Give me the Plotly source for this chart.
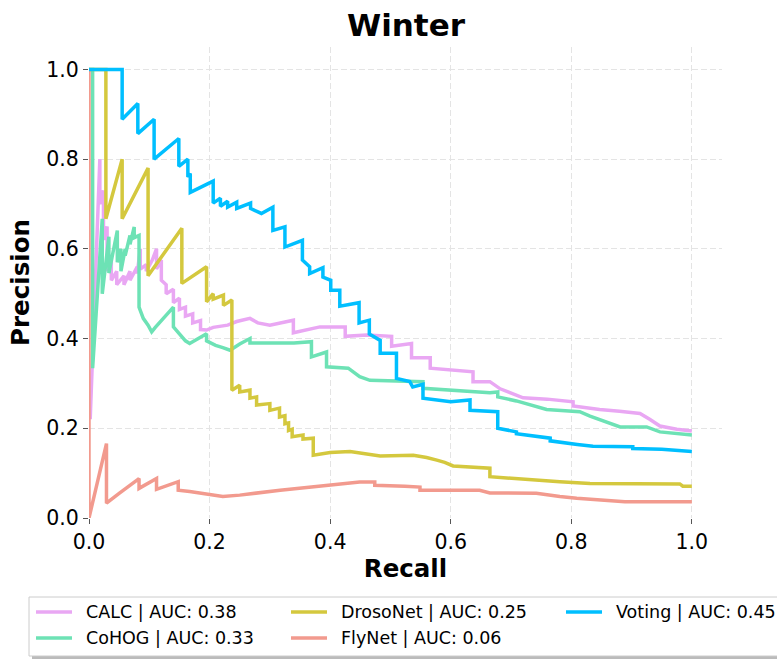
import plotly.graph_objects as go

# ---------------- data: precision-recall curves ----------------
names = ["CALC", "CoHOG", "DrosoNet", "FlyNet", "Voting"]
auc_values = [0.38, 0.33, 0.25, 0.06, 0.45]
colors = ["#E9A7F3", "#6DE2B5", "#D4C83E", "#F29A8E", "#00BFFF"]

calc_recall = [0.002, 0.018, 0.018, 0.024, 0.024, 0.030, 0.030, 0.037, 0.037, 0.046, 0.046,
               0.058, 0.058, 0.068, 0.068, 0.080, 0.080, 0.085, 0.085, 0.095, 0.095, 0.105,
               0.112, 0.112, 0.120, 0.120, 0.128, 0.128, 0.140, 0.140, 0.150, 0.150, 0.160,
               0.160, 0.172, 0.172, 0.185, 0.185, 0.195, 0.206, 0.230, 0.245, 0.267, 0.280,
               0.300, 0.317, 0.330, 0.339, 0.339, 0.360, 0.383, 0.425, 0.425, 0.461, 0.502,
               0.502, 0.535, 0.535, 0.566, 0.566, 0.600, 0.637, 0.637, 0.665, 0.682, 0.700,
               0.720, 0.760, 0.803, 0.803, 0.847, 0.880, 0.914, 0.930, 0.947, 0.975, 1.000]
calc_precision = [0.22, 0.80, 0.70, 0.73, 0.62, 0.65, 0.55, 0.58, 0.53, 0.55, 0.52,
                  0.54, 0.52, 0.55, 0.53, 0.56, 0.545, 0.60, 0.555, 0.565, 0.55, 0.575,
                  0.60, 0.555, 0.575, 0.53, 0.52, 0.50, 0.51, 0.48, 0.49, 0.465, 0.47,
                  0.45, 0.455, 0.435, 0.44, 0.42, 0.419, 0.425, 0.43, 0.438, 0.445, 0.435,
                  0.43, 0.435, 0.44, 0.441, 0.413, 0.42, 0.426, 0.426, 0.405, 0.408, 0.405,
                  0.383, 0.389, 0.357, 0.357, 0.334, 0.331, 0.326, 0.304, 0.304, 0.288, 0.278,
                  0.268, 0.265, 0.259, 0.250, 0.242, 0.238, 0.233, 0.220, 0.205, 0.198, 0.194]

cohog_recall = [0.000, 0.006, 0.006, 0.022, 0.022, 0.033, 0.033, 0.047, 0.047, 0.053, 0.053,
                0.060, 0.060, 0.068, 0.068, 0.075, 0.075, 0.083, 0.083, 0.090, 0.098, 0.104,
                0.110, 0.118, 0.130, 0.140, 0.140, 0.150, 0.160, 0.167, 0.180, 0.195, 0.195,
                0.210, 0.222, 0.234, 0.250, 0.267, 0.267, 0.290, 0.317, 0.340, 0.369, 0.369,
                0.394, 0.394, 0.430, 0.449, 0.466, 0.510, 0.554, 0.554, 0.601, 0.665, 0.678,
                0.678, 0.709, 0.759, 0.814, 0.831, 0.881, 0.925, 0.947, 1.000]
cohog_precision = [1.000, 1.000, 0.334, 0.667, 0.500, 0.627, 0.546, 0.641, 0.570, 0.600, 0.550,
                   0.600, 0.585, 0.630, 0.610, 0.649, 0.625, 0.630, 0.470, 0.445, 0.430, 0.415,
                   0.425, 0.437, 0.455, 0.470, 0.426, 0.410, 0.395, 0.389, 0.400, 0.411, 0.395,
                   0.385, 0.380, 0.374, 0.388, 0.400, 0.390, 0.390, 0.389, 0.390, 0.393, 0.359,
                   0.370, 0.337, 0.334, 0.315, 0.307, 0.305, 0.304, 0.289, 0.284, 0.279, 0.281,
                   0.270, 0.261, 0.242, 0.237, 0.227, 0.203, 0.203, 0.192, 0.185]

droso_recall = [0.000, 0.028, 0.028, 0.055, 0.055, 0.098, 0.098, 0.154, 0.154, 0.195, 0.195,
                0.206, 0.206, 0.223, 0.223, 0.237, 0.237, 0.250, 0.250, 0.267, 0.267, 0.278,
                0.278, 0.300, 0.300, 0.316, 0.316, 0.325, 0.325, 0.331, 0.331, 0.337, 0.337,
                0.355, 0.355, 0.372, 0.372, 0.400, 0.433, 0.450, 0.483, 0.538, 0.560, 0.577,
                0.590, 0.604, 0.665, 0.665, 0.731, 0.781, 0.831, 0.980, 0.985, 1.000]
droso_precision = [1.000, 1.000, 0.667, 0.800, 0.667, 0.780, 0.540, 0.646, 0.523, 0.560, 0.482,
                   0.500, 0.488, 0.497, 0.474, 0.486, 0.285, 0.296, 0.281, 0.285, 0.267, 0.270,
                   0.252, 0.255, 0.240, 0.245, 0.225, 0.228, 0.210, 0.212, 0.195, 0.198, 0.181,
                   0.185, 0.176, 0.178, 0.140, 0.146, 0.148, 0.145, 0.138, 0.140, 0.135, 0.129,
                   0.124, 0.116, 0.111, 0.092, 0.085, 0.081, 0.077, 0.076, 0.071, 0.071]

flynet_recall = [0.000, 0.000, 0.029, 0.029, 0.050, 0.083, 0.083, 0.112, 0.112, 0.148, 0.148,
                 0.167, 0.222, 0.250, 0.317, 0.400, 0.449, 0.474, 0.474, 0.524, 0.549, 0.549,
                 0.648, 0.665, 0.742, 0.781, 0.809, 0.889, 1.000]
flynet_precision = [1.000, 0.000, 0.166, 0.033, 0.055, 0.088, 0.066, 0.088, 0.064, 0.081, 0.062,
                    0.059, 0.048, 0.051, 0.062, 0.073, 0.080, 0.080, 0.073, 0.071, 0.069, 0.062,
                    0.062, 0.056, 0.055, 0.048, 0.044, 0.036, 0.036]

voting_recall = [0.000, 0.055, 0.055, 0.081, 0.081, 0.108, 0.108, 0.149, 0.149, 0.164, 0.164,
                 0.168, 0.168, 0.206, 0.206, 0.218, 0.218, 0.230, 0.230, 0.245, 0.245, 0.268,
                 0.268, 0.286, 0.305, 0.305, 0.325, 0.325, 0.354, 0.354, 0.366, 0.366, 0.388,
                 0.388, 0.401, 0.401, 0.416, 0.416, 0.448, 0.448, 0.465, 0.465, 0.483, 0.483,
                 0.510, 0.510, 0.532, 0.537, 0.554, 0.554, 0.600, 0.632, 0.632, 0.678, 0.678,
                 0.695, 0.709, 0.709, 0.740, 0.765, 0.765, 0.790, 0.810, 0.836, 0.870, 0.902,
                 0.902, 0.950, 1.000]
voting_precision = [1.000, 1.000, 0.889, 0.924, 0.857, 0.889, 0.800, 0.846, 0.784, 0.800, 0.760,
                    0.768, 0.726, 0.751, 0.702, 0.713, 0.695, 0.706, 0.693, 0.704, 0.690, 0.702,
                    0.690, 0.679, 0.693, 0.641, 0.649, 0.604, 0.619, 0.575, 0.560, 0.545, 0.558,
                    0.537, 0.530, 0.508, 0.508, 0.472, 0.480, 0.435, 0.441, 0.410, 0.396, 0.367,
                    0.367, 0.311, 0.304, 0.292, 0.298, 0.267, 0.259, 0.263, 0.240, 0.237, 0.200,
                    0.196, 0.192, 0.188, 0.183, 0.178, 0.172, 0.167, 0.164, 0.160, 0.160, 0.159,
                    0.155, 0.153, 0.148]

x_ticks = [0.0, 0.2, 0.4, 0.6, 0.8, 1.0]
y_ticks = [0.0, 0.2, 0.4, 0.6, 0.8, 1.0]

series = [
    (calc_recall, calc_precision),
    (cohog_recall, cohog_precision),
    (droso_recall, droso_precision),
    (flynet_recall, flynet_precision),
    (voting_recall, voting_precision),
]

# ---------------- figure ----------------
W, H = 777, 659
M_L, M_R, M_T, M_B = 89, 55, 47, 141
PLOT_W = W - M_L - M_R
PLOT_H = H - M_T - M_B
FONT = "DejaVu Sans"
LINE_W = 3.5

fig = go.Figure()
for name, color, (rec, prec) in zip(names, colors, series):
    fig.add_trace(go.Scatter(
        x=rec, y=prec, mode="lines", name=name,
        line=dict(color=color, width=LINE_W),
        showlegend=False,
    ))

axis_common = dict(
    showgrid=True, gridcolor="#e4e4e4", gridwidth=1.2, griddash="6px,3px",
    zeroline=False, showline=False,
    ticks="outside", ticklen=5, tickwidth=1.3, tickcolor="#555555",
    tickfont=dict(family=FONT, size=20.5, color="black"),
    tickformat=".1f",
)

fig.update_xaxes(range=[0, 1.05], tickvals=x_ticks,
                 title=dict(text="<b>Recall</b>", font=dict(family=FONT, size=24.5, color="black"),
                            standoff=7),
                 **axis_common)
fig.update_yaxes(range=[0, 1.05], tickvals=y_ticks,
                 title=dict(text="<b>Precision</b>", font=dict(family=FONT, size=24.5, color="black"),
                            standoff=9),
                 **axis_common)


def px_x(px):
    return (px - M_L) / PLOT_W


def px_y(py):
    return (H - M_B - py) / PLOT_H


# legend box (three columns, filled column by column) with a soft drop shadow
box_l, box_r, box_t, box_b = 29, 800, 597, 656
shapes = [
    dict(type="rect", xref="paper", yref="paper",
         x0=px_x(box_l + 3), x1=px_x(box_r + 3), y0=px_y(box_b + 3), y1=px_y(box_t + 3),
         line=dict(width=0), fillcolor="rgba(120,120,120,0.5)", layer="above"),
    dict(type="rect", xref="paper", yref="paper",
         x0=px_x(box_l), x1=px_x(box_r), y0=px_y(box_b), y1=px_y(box_t),
         line=dict(color="#cccccc", width=1), fillcolor="white", layer="above"),
]
annotations = []
col_line_x = [36, 291, 566]
col_text_x = [84, 339, 614]
row_y = [612, 638]
for i, (name, color, auc) in enumerate(zip(names, colors, auc_values)):
    col, row = i // 2, i % 2
    shapes.append(dict(type="line", xref="paper", yref="paper",
                       x0=px_x(col_line_x[col]), x1=px_x(col_line_x[col] + 36),
                       y0=px_y(row_y[row]), y1=px_y(row_y[row]),
                       line=dict(color=color, width=LINE_W), layer="above"))
    annotations.append(dict(xref="paper", yref="paper", x=px_x(col_text_x[col]), y=px_y(row_y[row]),
                            xanchor="left", yanchor="middle", showarrow=False,
                            text=f"{name} | AUC: {auc:.2f}",
                            font=dict(family=FONT, size=17.5, color="black")))

fig.update_layout(
    width=W, height=H,
    margin=dict(l=M_L, r=M_R, t=M_T, b=M_B),
    paper_bgcolor="white", plot_bgcolor="white",
    title=dict(text="<b>Winter</b>", x=px_x(406), xref="paper", xanchor="center",
               y=1 - 25 / H, yref="container", yanchor="middle",
               font=dict(family=FONT, size=31, color="black")),
    shapes=shapes,
    annotations=annotations,
    showlegend=False,
)

fig.write_html("out.html")
